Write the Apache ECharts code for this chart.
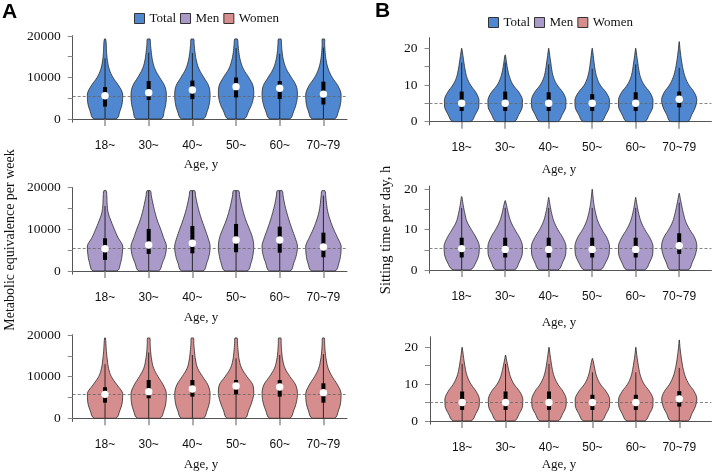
<!DOCTYPE html>
<html><head><meta charset="utf-8">
<script src="https://cdn.jsdelivr.net/npm/echarts@6/dist/echarts.min.js"></script>
<style>html,body{margin:0;padding:0;background:#fff}#c{width:713px;height:473px}</style>
</head><body><div id="c"></div>
<script>
// ---------- data ----------
const categories = ['18~', '30~', '40~', '50~', '60~', '70~79'];
const xTicks = [1, 2, 3, 4, 5, 6];
const metTicks = [0, 5000, 10000, 15000, 20000];
const metTickLabels = [0, 10000, 20000];
const sitTicks = [0, 5, 10, 15, 20];
const sitTickLabels = [0, 10, 20];

// density outline levels (relative half-width, 1 = widest)
const metLevels = [0, 2000, 4000, 6000, 8000, 10000, 12000, 14000, 16000, 18000];
const sitLevels = [0, 2, 4, 6, 8, 10, 12, 14, 16, 18, 20];

// ---- A: Metabolic equivalence per week ----
const metTotalWidths = [
  [0.62, 0.85, 0.98, 1.0, 0.78, 0.45, 0.24, 0.14, 0.09, 0.07],
  [0.70, 0.88, 0.98, 1.0, 0.90, 0.62, 0.36, 0.22, 0.15, 0.10],
  [0.60, 0.85, 0.97, 1.0, 0.92, 0.65, 0.38, 0.23, 0.15, 0.10],
  [0.45, 0.72, 0.92, 1.0, 0.96, 0.72, 0.42, 0.25, 0.16, 0.11],
  [0.55, 0.80, 0.95, 1.0, 0.93, 0.66, 0.38, 0.22, 0.14, 0.10],
  [0.62, 0.86, 0.98, 1.0, 0.82, 0.50, 0.28, 0.16, 0.10, 0.07]
];
const metTotalTop = [19300, 19300, 19300, 19300, 19300, 19300];
const metTotalTopWidth = [0.03, 0.07, 0.07, 0.07, 0.07, 0.06];
const metTotalQ1 = [3000, 4600, 4800, 5200, 4800, 3500];
const metTotalMedian = [5600, 6350, 7000, 7800, 7400, 6000];
const metTotalQ3 = [7700, 9150, 9250, 10000, 9150, 9000];
const metTotalLow = [0, 0, 0, 0, 0, 0];
const metTotalHigh = [14600, 16000, 15900, 17100, 15700, 17200];
const metTotalOverall = 5500;

const metMenWidths = [
  [0.67, 0.88, 0.97, 1.0, 0.74, 0.53, 0.34, 0.18, 0.12, 0.10],
  [0.55, 0.78, 0.95, 1.0, 0.84, 0.68, 0.50, 0.36, 0.25, 0.15],
  [0.60, 0.82, 0.96, 1.0, 0.88, 0.72, 0.55, 0.40, 0.28, 0.18],
  [0.62, 0.85, 0.96, 1.0, 0.93, 0.76, 0.57, 0.42, 0.30, 0.20],
  [0.58, 0.80, 0.95, 1.0, 0.87, 0.70, 0.54, 0.40, 0.28, 0.19],
  [0.65, 0.88, 0.98, 1.0, 0.80, 0.58, 0.40, 0.26, 0.18, 0.13]
];
const metMenTop = [19300, 19300, 19300, 19300, 19300, 19300];
const metMenTopWidth = [0.06, 0.09, 0.12, 0.14, 0.13, 0.08];
const metMenQ1 = [2650, 4100, 4250, 4500, 4400, 3300];
const metMenMedian = [5350, 6250, 6650, 7450, 7450, 5750];
const metMenQ3 = [7850, 10100, 10800, 11300, 10650, 9200];
const metMenLow = [0, 0, 0, 0, 0, 0];
const metMenHigh = [15600, 19300, 19300, 19300, 19300, 18100];
const metMenOverall = 5450;

const metWomenWidths = [
  [0.60, 0.85, 0.98, 1.0, 0.68, 0.36, 0.20, 0.13, 0.08, 0.05],
  [0.62, 0.87, 0.98, 1.0, 0.82, 0.53, 0.28, 0.17, 0.11, 0.08],
  [0.60, 0.84, 0.97, 1.0, 0.88, 0.58, 0.30, 0.18, 0.12, 0.08],
  [0.50, 0.72, 0.90, 1.0, 0.95, 0.62, 0.32, 0.18, 0.12, 0.08],
  [0.56, 0.80, 0.95, 1.0, 0.90, 0.58, 0.30, 0.17, 0.11, 0.08],
  [0.62, 0.86, 0.98, 1.0, 0.80, 0.50, 0.27, 0.16, 0.10, 0.07]
];
const metWomenTop = [19300, 19300, 19300, 19300, 19300, 19300];
const metWomenTopWidth = [0.02, 0.06, 0.06, 0.06, 0.06, 0.05];
const metWomenQ1 = [3750, 4800, 5200, 5750, 5200, 3750];
const metWomenMedian = [5750, 6400, 7050, 7750, 7500, 6150];
const metWomenQ3 = [7450, 9200, 9200, 9200, 9200, 8400];
const metWomenLow = [0, 0, 0, 0, 0, 0];
const metWomenHigh = [13000, 15800, 15200, 14400, 15200, 15400];
const metWomenOverall = 5750;

// ---- B: Sitting time per day, h ----
const sitTotalWidths = [
  [0.50, 0.78, 0.97, 0.98, 0.80, 0.50, 0.30, 0.20, 0.13, 0.07],
  [0.50, 0.78, 0.97, 0.98, 0.78, 0.45, 0.26, 0.15, 0.08, 0.02],
  [0.50, 0.78, 0.97, 0.98, 0.80, 0.48, 0.28, 0.18, 0.12, 0.06],
  [0.50, 0.78, 0.97, 0.98, 0.78, 0.45, 0.27, 0.17, 0.11, 0.06],
  [0.50, 0.78, 0.97, 0.98, 0.80, 0.48, 0.28, 0.18, 0.12, 0.06],
  [0.48, 0.72, 0.92, 1.00, 0.85, 0.55, 0.35, 0.23, 0.15, 0.09, 0.04]
];
const sitTotalTop = [20, 18.2, 20, 20, 20, 21.8];
const sitTotalTopWidth = [0.005, 0.005, 0.005, 0.005, 0.005, 0.005];
const sitTotalQ1 = [2.9, 2.9, 2.9, 2.9, 2.9, 3.9];
const sitTotalMedian = [5.0, 5.0, 5.0, 5.0, 5.0, 6.1];
const sitTotalQ3 = [8.2, 8.2, 8.0, 7.5, 8.0, 8.2];
const sitTotalLow = [0, 0, 0, 0, 0, 0];
const sitTotalHigh = [16.1, 16.1, 15.6, 14.4, 15.6, 14.7];
const sitTotalOverall = 5.0;

const sitMenWidths = [
  [0.48, 0.82, 0.98, 1.00, 0.82, 0.55, 0.30, 0.18, 0.09, 0.02],
  [0.52, 0.80, 0.97, 0.98, 0.82, 0.55, 0.32, 0.18, 0.08],
  [0.52, 0.80, 0.97, 0.98, 0.80, 0.52, 0.30, 0.17, 0.08],
  [0.45, 0.78, 0.96, 0.98, 0.83, 0.55, 0.33, 0.20, 0.11, 0.05],
  [0.50, 0.80, 0.97, 0.98, 0.80, 0.52, 0.30, 0.17, 0.08],
  [0.50, 0.75, 0.93, 1.00, 0.88, 0.60, 0.37, 0.24, 0.14, 0.05]
];
const sitMenTop = [18.2, 17.2, 18, 20, 18, 19];
const sitMenTopWidth = [0.005, 0.005, 0.005, 0.005, 0.005, 0.005];
const sitMenQ1 = [3.1, 3.1, 3.1, 3.1, 3.1, 4.0];
const sitMenMedian = [5.3, 5.1, 5.1, 5.1, 5.1, 6.0];
const sitMenQ3 = [8.0, 8.0, 8.0, 8.0, 8.0, 9.1];
const sitMenLow = [0, 0, 0, 0, 0, 0];
const sitMenHigh = [15.4, 15.4, 15.4, 15.4, 15.4, 16.7];
const sitMenOverall = 5.3;

const sitWomenWidths = [
  [0.50, 0.78, 0.97, 0.98, 0.80, 0.50, 0.30, 0.19, 0.12, 0.06],
  [0.50, 0.78, 0.97, 0.98, 0.80, 0.48, 0.28, 0.17, 0.08],
  [0.50, 0.78, 0.97, 0.98, 0.80, 0.50, 0.30, 0.19, 0.12, 0.06],
  [0.50, 0.78, 0.97, 0.98, 0.78, 0.45, 0.25, 0.14, 0.06],
  [0.50, 0.78, 0.97, 0.98, 0.78, 0.47, 0.28, 0.18, 0.11, 0.05],
  [0.48, 0.72, 0.92, 1.00, 0.85, 0.55, 0.35, 0.23, 0.15, 0.09, 0.04]
];
const sitWomenTop = [20, 17.9, 20, 17, 20, 22];
const sitWomenTopWidth = [0.005, 0.005, 0.005, 0.005, 0.005, 0.005];
const sitWomenQ1 = [3.0, 3.0, 3.0, 3.0, 3.0, 3.9];
const sitWomenMedian = [5.0, 5.0, 5.0, 5.0, 5.0, 6.0];
const sitWomenQ3 = [8.0, 8.0, 8.0, 7.1, 7.1, 8.1];
const sitWomenLow = [0, 0, 0, 0, 0, 0];
const sitWomenHigh = [15.5, 15.5, 15.5, 13.2, 13.2, 14.4];
const sitWomenOverall = 5.0;

// ---------- styling / layout ----------
const COLORS = { Total: '#4F87D0', Men: '#A99AC9', Women: '#D68D8D' };
const HALF = 0.405;
const SERIF = '"Liberation Serif", "Times New Roman", serif';
const SANS = '"Liberation Sans", Arial, sans-serif';

const panels = [
  { name: 'Total', grid: { left: 72.7, top: 35.7, width: 274.3, height: 86.5 }, xMin: 0.26, xMax: 6.54, yMin: -772, yMax: 20072, ticks: metTicks, labels: metTickLabels, levels: metLevels,
    widths: metTotalWidths, top: metTotalTop, topW: metTotalTopWidth, q1: metTotalQ1, med: metTotalMedian, q3: metTotalQ3, low: metTotalLow, high: metTotalHigh, overall: metTotalOverall },
  { name: 'Men', grid: { left: 72.7, top: 187.4, width: 274.3, height: 86.8 }, xMin: 0.26, xMax: 6.54, yMin: -772, yMax: 20072, ticks: metTicks, labels: metTickLabels, levels: metLevels,
    widths: metMenWidths, top: metMenTop, topW: metMenTopWidth, q1: metMenQ1, med: metMenMedian, q3: metMenQ3, low: metMenLow, high: metMenHigh, overall: metMenOverall },
  { name: 'Women', grid: { left: 72.7, top: 334.7, width: 274.3, height: 86.8 }, xMin: 0.26, xMax: 6.54, yMin: -772, yMax: 20072, ticks: metTicks, labels: metTickLabels, levels: metLevels,
    widths: metWomenWidths, top: metWomenTop, topW: metWomenTopWidth, q1: metWomenQ1, med: metWomenMedian, q3: metWomenQ3, low: metWomenLow, high: metWomenHigh, overall: metWomenOverall },
  { name: 'Total', grid: { left: 429.5, top: 37.7, width: 281.9, height: 87.2 }, xMin: 0.26, xMax: 6.74, yMin: -0.88, yMax: 22.88, ticks: sitTicks, labels: sitTickLabels, levels: sitLevels,
    widths: sitTotalWidths, top: sitTotalTop, topW: sitTotalTopWidth, q1: sitTotalQ1, med: sitTotalMedian, q3: sitTotalQ3, low: sitTotalLow, high: sitTotalHigh, overall: sitTotalOverall },
  { name: 'Men', grid: { left: 429.5, top: 186.1, width: 281.9, height: 87.1 }, xMin: 0.26, xMax: 6.74, yMin: -0.8, yMax: 20.8, ticks: sitTicks, labels: sitTickLabels, levels: sitLevels,
    widths: sitMenWidths, top: sitMenTop, topW: sitMenTopWidth, q1: sitMenQ1, med: sitMenMedian, q3: sitMenQ3, low: sitMenLow, high: sitMenHigh, overall: sitMenOverall },
  { name: 'Women', grid: { left: 430, top: 336.7, width: 281.4, height: 87.5 }, xMin: 0.26, xMax: 6.74, yMin: -0.88, yMax: 22.88, ticks: sitTicks, labels: sitTickLabels, levels: sitLevels,
    widths: sitWomenWidths, top: sitWomenTop, topW: sitWomenTopWidth, q1: sitWomenQ1, med: sitWomenMedian, q3: sitWomenQ3, low: sitWomenLow, high: sitWomenHigh, overall: sitWomenOverall }
];

function bodyRenderer(p) {
  return function (params, api) {
    const i = params.dataIndex;
    const c = api.value(0);
    const w = p.widths[i];
    const pts = [];
    for (let k = 0; k < w.length; k++) pts.push(api.coord([c + w[k] * HALF, p.levels[k]]));
    pts.push(api.coord([c + p.topW[i] * HALF, p.top[i]]));
    pts.push(api.coord([c - p.topW[i] * HALF, p.top[i]]));
    for (let k = w.length - 1; k >= 0; k--) pts.push(api.coord([c - w[k] * HALF, p.levels[k]]));
    let mnx = Infinity, mny = Infinity, mxx = -Infinity, mxy = -Infinity;
    pts.forEach(q => { mnx = Math.min(mnx, q[0]); mny = Math.min(mny, q[1]); mxx = Math.max(mxx, q[0]); mxy = Math.max(mxy, q[1]); });
    return {
      type: 'polygon',
      shape: { points: pts, smooth: 0.4, smoothConstraint: [[mnx, mny], [mxx, mxy]] },
      style: { fill: COLORS[p.name], stroke: '#2b2b2b', lineWidth: 0.8 }
    };
  };
}

function boxRenderer(p) {
  return function (params, api) {
    const c = api.value(0);
    const lo = api.coord([c, api.value(1)]);
    const b1 = api.coord([c, api.value(2)]);
    const md = api.coord([c, api.value(3)]);
    const b3 = api.coord([c, api.value(4)]);
    const hi = api.coord([c, api.value(5)]);
    return {
      type: 'group',
      children: [
        { type: 'line', shape: { x1: lo[0], y1: lo[1], x2: hi[0], y2: hi[1] }, style: { stroke: '#1a1a1a', lineWidth: 0.9 } },
        { type: 'rect', shape: { x: b1[0] - 2, y: b3[1], width: 4, height: b1[1] - b3[1] }, style: { fill: '#000' } },
        { type: 'circle', shape: { cx: md[0], cy: md[1], r: 3.7 }, style: { fill: '#fff' } }
      ]
    };
  };
}

const grid = [], xAxis = [], yAxis = [], series = [];
panels.forEach((p, gi) => {
  grid.push(Object.assign({ containLabel: false }, p.grid));
  xAxis.push({
    type: 'value', gridIndex: gi, min: p.xMin, max: p.xMax,
    splitLine: { show: false },
    axisLine: { show: true, lineStyle: { color: '#555', width: 1 } },
    axisTick: { show: true, customValues: xTicks, length: 7, lineStyle: { color: '#999', width: 1.6 } },
    axisLabel: { show: true, customValues: xTicks, formatter: v => categories[Math.round(v) - 1], fontFamily: SANS, fontSize: 12, color: '#111', margin: 17 }
  });
  yAxis.push({
    type: 'value', gridIndex: gi, min: p.yMin, max: p.yMax,
    splitLine: { show: false },
    axisLine: { show: true, lineStyle: { color: '#555', width: 1 } },
    axisTick: { show: true, customValues: p.ticks, length: 5, lineStyle: { color: '#888', width: 1 } },
    axisLabel: { show: true, customValues: p.labels, formatter: v => String(v), fontFamily: SERIF, fontSize: 13.5, color: '#111', margin: 12 }
  });
  series.push({
    type: 'custom', name: p.name, xAxisIndex: gi, yAxisIndex: gi, z: 2,
    itemStyle: { color: COLORS[p.name] },
    renderItem: bodyRenderer(p),
    data: categories.map((c, i) => [xTicks[i], p.top[i]]),
    markLine: {
      silent: true, symbol: ['none', 'none'], label: { show: false },
      lineStyle: { type: [3, 2], color: '#666', width: 0.8 },
      data: [{ yAxis: p.overall }]
    }
  });
  series.push({
    type: 'custom', name: p.name + ' box', xAxisIndex: gi, yAxisIndex: gi, z: 6,
    renderItem: boxRenderer(p),
    data: categories.map((c, i) => [xTicks[i], p.low[i], p.q1[i], p.med[i], p.q3[i], p.high[i]])
  });
});

const legendBase = {
  data: ['Total', 'Men', 'Women'], icon: 'rect', itemWidth: 10, itemHeight: 10, itemGap: 4, padding: 0,
  itemStyle: { borderColor: '#333', borderWidth: 1 },
  textStyle: { fontFamily: SERIF, fontSize: 13, color: '#111' }, selectedMode: false
};

const ageTitles = [[201, 165], [201, 318], [201, 465], [559, 170], [559, 323], [559, 465]];
const graphic = [
  { type: 'text', x: 2, y: 2, style: { text: 'A', font: 'bold 21px ' + SANS, fill: '#000' } },
  { type: 'text', x: 375, y: 1, style: { text: 'B', font: 'bold 21px ' + SANS, fill: '#000' } },
  { type: 'text', x: 10, y: 240, rotation: Math.PI / 2, style: { text: 'Metabolic equivalence per week', font: '14px ' + SERIF, fill: '#111', align: 'center', verticalAlign: 'middle' } },
  { type: 'text', x: 386, y: 230, rotation: Math.PI / 2, style: { text: 'Sitting time per day, h', font: '14.5px ' + SERIF, fill: '#111', align: 'center', verticalAlign: 'middle' } }
].concat(ageTitles.map(([x, y]) => ({ type: 'text', x: x, y: y, style: { text: 'Age, y', font: '13px ' + SERIF, fill: '#111', align: 'center', verticalAlign: 'middle' } })));

const chart = echarts.init(document.getElementById('c'), null, { renderer: 'canvas' });
chart.setOption({
  animation: false,
  backgroundColor: '#fff',
  legend: [
    Object.assign({ left: 134, top: 12 }, legendBase),
    Object.assign({ left: 488, top: 16 }, legendBase)
  ],
  grid, xAxis, yAxis, series, graphic
});
</script></body></html>
